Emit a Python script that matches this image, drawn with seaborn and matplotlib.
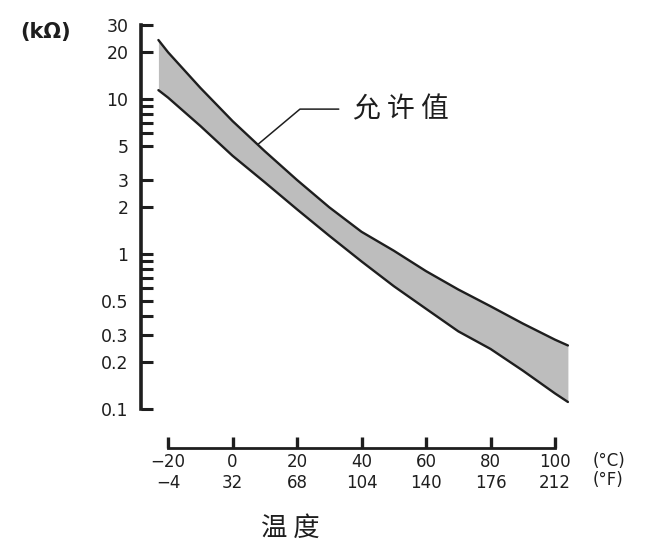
import pandas as pd
import matplotlib
matplotlib.use("Agg")
import matplotlib.pyplot as plt
import matplotlib.ticker as mticker
import seaborn as sns

# values: temperature (degC) vs resistance (kOhm)
temp_c = [-23, -20, -10, 0, 10, 20, 30, 40, 50, 60, 70, 80, 90, 100, 104]
upper_kohm = [24.0, 20.0, 11.8, 7.2, 4.6, 3.0, 2.0, 1.39, 1.05, 0.775,
              0.59, 0.46, 0.356, 0.28, 0.257]
lower_kohm = [11.4, 10.2, 6.7, 4.3, 2.9, 1.94, 1.31, 0.895, 0.62, 0.443,
              0.317, 0.244, 0.177, 0.126, 0.111]

# axis ticks
c_ticks = [-20, 0, 20, 40, 60, 80, 100]
f_ticks = [-4, 32, 68, 104, 140, 176, 212]
y_major = [0.1, 0.2, 0.3, 0.5, 1, 2, 3, 5, 10, 20, 30]
y_labels = ["0.1", "0.2", "0.3", "0.5", "1", "2", "3", "5", "10", "20", "30"]
y_minor = [0.4, 0.6, 0.7, 0.8, 0.9, 6, 7, 8, 9]

INK = "#1e1e1e"
CJK = ["Noto Sans CJK SC", "DejaVu Sans"]

sns.set_style("ticks")
plt.rcParams["font.family"] = ["DejaVu Sans", "Noto Sans CJK SC"]

fig = plt.figure(figsize=(6.7, 5.44), dpi=100)
ax = fig.add_axes([141 / 670, 1 - 409 / 544, (575 - 141) / 670, (409 - 25) / 544])

df = pd.DataFrame({"temp": temp_c, "upper": upper_kohm, "lower": lower_kohm})

# the allowed band
ax.fill_between(df["temp"], df["lower"], df["upper"], color="#bdbdbd", lw=0)
sns.lineplot(data=df, x="temp", y="upper", color=INK, lw=1.7, ax=ax)
sns.lineplot(data=df, x="temp", y="lower", color=INK, lw=1.7, ax=ax)

ax.set_yscale("log")
ax.set_ylim(0.1, 30)
ax.set_xlim(-28.4, 106.2)
ax.set_xlabel("")
ax.set_ylabel("")

# y axis
ax.set_yticks(y_major, labels=y_labels)
ax.set_yticks(y_minor, minor=True)
ax.yaxis.set_minor_formatter(mticker.NullFormatter())
ax.tick_params(axis="y", which="both", direction="in", length=8.6, width=2.2,
               pad=9, labelsize=12.5, colors=INK)

# x axis: detached line below the plot, degC over degF
xlabels = [f"{c}\n{f}".replace("-", "\u2212") for c, f in zip(c_ticks, f_ticks)]
ax.set_xticks(c_ticks, labels=xlabels)
ax.xaxis.set_minor_locator(mticker.NullLocator())
ax.tick_params(axis="x", direction="in", length=8, width=2.4, pad=4,
               labelsize=12, colors=INK)
for lbl in ax.get_xticklabels():
    lbl.set_linespacing(1.05)
for i in (0, 5):
    ax.xaxis.get_major_ticks()[i].tick1line.set_markeredgewidth(1.0)

for side in ("top", "right"):
    ax.spines[side].set_visible(False)
ax.spines["left"].set_linewidth(2.6)
ax.spines["left"].set_color(INK)
ax.spines["bottom"].set_position(("outward", 28))
ax.spines["bottom"].set_bounds(-20, 100)
ax.spines["bottom"].set_linewidth(2.0)
ax.spines["bottom"].set_color(INK)

fig.text(593 / 670, 1 - 452 / 544, "(°C)\n(°F)", ha="left", va="top",
         fontsize=12, color=INK, linespacing=1.05)

# annotation
ax.annotate("允 许 值", xy=(7.9, 5.1), xytext=(37.4, 8.6), fontsize=20,
            family=CJK, color=INK, ha="left", va="center",
            arrowprops=dict(arrowstyle="-", color=INK, lw=1.1, shrinkA=8, shrinkB=0,
                            connectionstyle="angle,angleA=0,angleB=40,rad=0"))

fig.text(46 / 670, 1 - 32 / 544, "(kΩ)", ha="center", va="center",
         fontsize=15, weight="bold", color=INK)
fig.text(290 / 670, 1 - 528 / 544, "温 度", ha="center", va="center",
         fontsize=19, family=CJK, color=INK)

fig.savefig("out.png", dpi=100)
